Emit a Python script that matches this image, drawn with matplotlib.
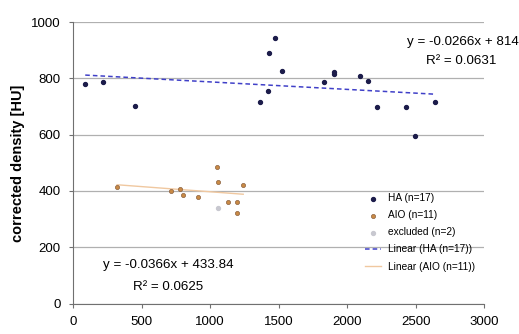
import numpy as np
import matplotlib
matplotlib.use("Agg")
import matplotlib.pyplot as plt

plt.rcParams['font.family'] = ['Liberation Sans', 'DejaVu Sans']

# HA group (n=17)
ha_x = [88, 219, 452, 1365, 1423, 1430, 1474, 1525, 1832, 1905, 1905,
        2095, 2153, 2219, 2431, 2496, 2642]
ha_y = [780, 787, 702, 716, 755, 890, 943, 826, 787, 822, 815,
        808, 790, 698, 698, 595, 716]

# AIO group (n=11)
aio_x = [321, 715, 781, 803, 912, 1050, 1058, 1131, 1197, 1197, 1241]
aio_y = [414, 400, 407, 385, 378, 484, 431, 360, 360, 321, 421]

# excluded
exc_x = [1058]
exc_y = [340]

# trend lines as printed on the chart
ha_slope, ha_icpt = -0.0266, 814
aio_slope, aio_icpt = -0.0366, 433.84

fig = plt.figure(figsize=(5.19, 3.34), dpi=100)
ax = fig.add_axes([0.141, 0.091, 0.792, 0.843])

ax.set_xlim(0, 3000)
ax.set_ylim(0, 1000)
ax.set_yticks(range(0, 1001, 200))
ax.set_xticks(range(0, 3001, 500))
ax.grid(axis='y', color='#b0b0b0', linewidth=0.9)
ax.set_axisbelow(True)
for s in ['top', 'right']:
    ax.spines[s].set_visible(False)
for s in ['left', 'bottom']:
    ax.spines[s].set_color('#707070')
ax.tick_params(labelsize=9.5, color='#707070', length=3, pad=6)

ha_line_x = np.array([min(ha_x), max(ha_x)])
aio_line_x = np.array([min(aio_x), max(aio_x)])

ax.scatter(ha_x, ha_y, s=8, color='#1c1c4a', zorder=3, label='HA (n=17)')
ax.scatter(aio_x, aio_y, s=9, color='#c98a45', edgecolor='#8a6040',
           linewidth=0.5, zorder=3, label='AIO (n=11)')
ax.scatter(exc_x, exc_y, s=8, color='#c8c8d0', zorder=3, label='excluded (n=2)')
ax.plot(ha_line_x, ha_slope * ha_line_x + ha_icpt, color='#4040c8',
        linestyle=(0, (3, 2)), linewidth=1.1, label='Linear (HA (n=17))')
ax.plot(aio_line_x, aio_slope * aio_line_x + aio_icpt, color='#f0c8a0',
        linewidth=1.0, label='Linear (AIO (n=11))')

ax.set_ylabel('corrected density [HU]', fontsize=10.5, fontweight='bold')

ax.text(3250, 929, 'y = -0.0266x + 814', fontsize=9.6, ha='right', va='center')
ax.text(2830, 862, 'R² = 0.0631', fontsize=9.6, ha='center', va='center')
ax.text(695, 137, 'y = -0.0366x + 433.84', fontsize=9.6, ha='center', va='center')
ax.text(695, 60, 'R² = 0.0625', fontsize=9.6, ha='center', va='center')

leg = ax.legend(loc='upper left', bbox_to_anchor=(0.691, 0.421), fontsize=7.3,
                frameon=False, handlelength=1.5, labelspacing=0.7,
                borderpad=0.3, handletextpad=0.7)

fig.savefig('out.png', dpi=100)
